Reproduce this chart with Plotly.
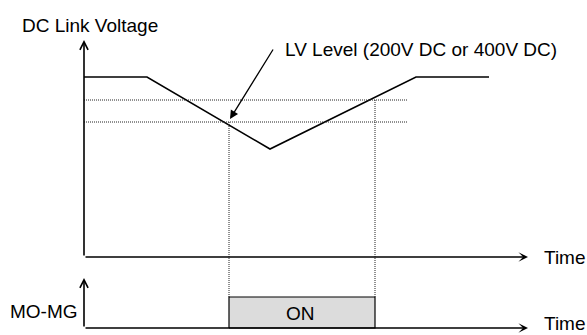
import plotly.graph_objects as go

# --- data (time units along x, voltage units along y; origin = axis corner) ---
time_pts = [0, 63, 186, 332, 405]
voltage_pts = [180, 180, 108, 180, 180]

lv_levels = [157, 135]        # upper / lower LV level (dotted)
lv_line_end = 323
on_start, on_end = 145, 291    # MO-MG ON window
on_cross_v = [135, 157]        # where the vertical dotted marks start

axis_top = 217
axis_end = 444
mg_base = -71
mg_top = -40
mg_axis_top = -21

FONT = "Liberation Sans, Arial, sans-serif"

fig = go.Figure()

# DC link voltage curve
fig.add_trace(go.Scatter(
    x=time_pts, y=voltage_pts, mode="lines",
    line=dict(color="black", width=1.6), hoverinfo="skip"))

# LV level dotted lines
for lv in lv_levels:
    fig.add_trace(go.Scatter(
        x=[0, lv_line_end], y=[lv, lv], mode="lines",
        line=dict(color="#222222", width=1, dash="1px,1px"), hoverinfo="skip"))

# vertical dotted markers
for xv, yv in zip([on_start, on_end], on_cross_v):
    fig.add_trace(go.Scatter(
        x=[xv, xv], y=[yv, mg_top], mode="lines",
        line=dict(color="#222222", width=1, dash="1px,1px"), hoverinfo="skip"))

# ON box
fig.add_trace(go.Scatter(
    x=[on_start, on_start, on_end, on_end, on_start],
    y=[mg_base, mg_top, mg_top, mg_base, mg_base],
    mode="lines", fill="toself", fillcolor="#dcdcdc",
    line=dict(color="black", width=1.2), hoverinfo="skip"))


def arrow(x0, y0, x1, y1, head, size=1.0, width=1.6):
    fig.add_annotation(
        x=x1, y=y1, ax=x0, ay=y0, xref="x", yref="y", axref="x", ayref="y",
        text="", showarrow=True, arrowhead=head, arrowsize=size,
        arrowwidth=width, arrowcolor="black", standoff=0)


# axes with arrows
arrow(0, 0, 0, axis_top, 5, 1.0)
arrow(0, 0, axis_end, 0, 3, 1.0)
arrow(0, mg_base, 0, mg_axis_top, 5, 1.0)
arrow(0, mg_base, axis_end, mg_base, 3, 1.0)

# LV level pointer
arrow(190, 209, 146, 138, 2, 1.3, 1.3)

labels = [
    ("DC Link Voltage", -64, 232, "left"),
    ("LV Level (200V DC or 400V DC)", 199, 208, "left"),
    ("Time", 458, 0, "left"),
    ("Time", 458, -66, "left"),
    ("MO-MG", -4, -54, "right"),
    ("ON", 216, -56, "center"),
]
for txt, x, y, anchor in labels:
    fig.add_annotation(
        x=x, y=y, xref="x", yref="y", text=txt, showarrow=False,
        xanchor=anchor, yanchor="middle",
        font=dict(family=FONT, size=19, color="black"))

fig.update_xaxes(range=[-84, 503], visible=False, fixedrange=True)
fig.update_yaxes(range=[-78, 257], visible=False, fixedrange=True)
fig.update_layout(
    width=587, height=335,
    margin=dict(l=0, r=0, t=0, b=0),
    plot_bgcolor="white", paper_bgcolor="white",
    showlegend=False)

# page body has a default 8px margin; drop it so the figure fills the window
fig.write_html("out.html", config={"displayModeBar": False},
               post_script="document.body.style.margin='0';")
